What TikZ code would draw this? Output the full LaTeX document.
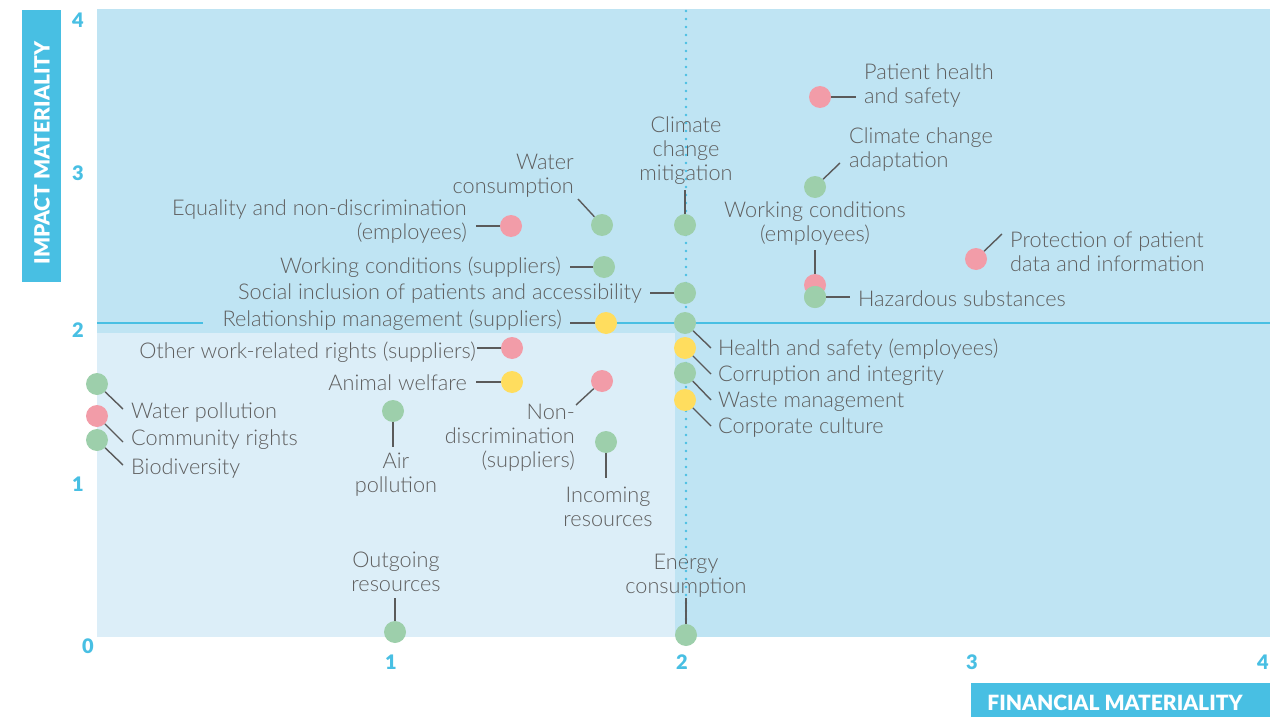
\documentclass[tikz,border=0pt]{standalone}
\usepackage{fontspec}
\setmainfont{Lato Light}
\newfontfamily\axfont{Lato Black}
\begin{document}
\begin{tikzpicture}[x=1pt,y=-1pt,
  dotp/.style={circle,fill=dotpink,minimum size=22pt,inner sep=0pt},
  dotg/.style={circle,fill=dotgreen,minimum size=22pt,inner sep=0pt},
  doty/.style={circle,fill=dotyellow,minimum size=22pt,inner sep=0pt},
  lbl/.style={text=labelgray,font=\fontsize{21.7}{24}\selectfont,inner sep=0pt,yshift=-1.5pt},
  conn/.style={draw=connGray,line width=1.4pt},
  tick/.style={text=axisblue,font=\axfont\fontsize{20}{22}\selectfont,inner sep=0pt},
  axtitle/.style={text=white,font=\axfont\fontsize{21}{22}\selectfont,inner sep=0pt}]
\definecolor{bgdark}{HTML}{BFE4F3}
\definecolor{bglight}{HTML}{DCEEF8}
\definecolor{dotpink}{HTML}{F29CA8}
\definecolor{dotgreen}{HTML}{9DCFAB}
\definecolor{dotyellow}{HTML}{FFDD5E}
\definecolor{labelgray}{HTML}{5F5F5F}
\definecolor{connGray}{HTML}{5A5A5A}
\definecolor{axisblue}{HTML}{48BFE3}
\useasboundingbox (0,0) rectangle (1278,717);
% backgrounds
\fill[bgdark] (97,9) rectangle (1270,637);
\fill[bglight] (97,333) rectangle (675,637);
% threshold lines
\draw[axisblue,line width=2pt] (97,323) -- (203,323);
\draw[axisblue,line width=2pt] (570,323) -- (1270,323);
\draw[axisblue,line width=2.6pt,line cap=round,dash pattern=on 0pt off 8pt] (686,11) -- (686,636);
% axis titles
\fill[axisblue] (22,10) rectangle (61,282);
\node[axtitle,rotate=90] (ytitle) at (42,153) {IMPACT MATERIALITY};
\fill[axisblue] (971,683) rectangle (1270,717);
\node[axtitle] (xtitle) at (1115,703) {FINANCIAL MATERIALITY};
% ticks
\node[tick] (y4) at (78,20) {4};
\node[tick] (y3) at (78,173) {3};
\node[tick] (y2) at (78,330) {2};
\node[tick] (y1) at (78,484) {1};
\node[tick] (x0) at (88,646) {0};
\node[tick] (x1) at (391,662) {1};
\node[tick] (x2) at (682,662) {2};
\node[tick] (x3) at (972,662) {3};
\node[tick] (x4) at (1263,662) {4};
% coordinates for connector ends
\coordinate (cA) at (856,97);
\coordinate (cB) at (840,163);
\coordinate (cC) at (815,250);
\coordinate (cD) at (850,297);
\coordinate (cE) at (1002,234);
\coordinate (cF) at (685,190);
\coordinate (cG) at (650,293);
\coordinate (cH) at (711,348);
\coordinate (cI) at (711,374);
\coordinate (cJ) at (711,400);
\coordinate (cK) at (711,426);
\coordinate (cL) at (578,199);
\coordinate (cM) at (476,226);
\coordinate (cN) at (570,267);
\coordinate (cO) at (570,323);
\coordinate (cP) at (477,348);
\coordinate (cQ) at (476,382);
\coordinate (cR) at (576,405);
\coordinate (cS) at (606,478);
\coordinate (cT) at (393,447);
\coordinate (cU) at (123,409);
\coordinate (cV) at (123,442);
\coordinate (cW) at (123,465);
\coordinate (cX) at (395,598);
\coordinate (cY) at (686,598);
% dots
\node[dotp] (pA) at (820,97) {};
\node[dotg] (gB) at (815,187) {};
\node[dotp] (pC) at (815,285) {};
\node[dotg] (gD) at (815,297) {};
\node[dotp] (pE) at (976,259) {};
\node[dotg] (gF) at (685,225) {};
\node[dotg] (gG) at (685,293) {};
\node[dotg] (gH) at (685,323) {};
\node[doty] (yI) at (685,348) {};
\node[dotg] (gJ) at (685,373) {};
\node[doty] (yK) at (685,400) {};
\node[dotg] (gL) at (602,225) {};
\node[dotp] (pM) at (511,226) {};
\node[dotg] (gN) at (604,267) {};
\node[doty] (yO) at (606,323) {};
\node[dotp] (pP) at (512,348) {};
\node[doty] (yQ) at (512,382) {};
\node[dotp] (pR) at (602,381) {};
\node[dotg] (gS) at (606,442) {};
\node[dotg] (gT) at (393,411) {};
\node[dotg] (gU) at (97,384) {};
\node[dotp] (pV) at (97,416) {};
\node[dotg] (gW) at (97,440) {};
\node[dotg] (gX) at (395,632) {};
\node[dotg] (gY) at (686,635) {};
% connectors
\foreach \d/\c in {pA/cA,gB/cB,pC/cC,gD/cD,pE/cE,gF/cF,gG/cG,gH/cH,yI/cI,gJ/cJ,yK/cK,gL/cL,pM/cM,gN/cN,yO/cO,pP/cP,yQ/cQ,pR/cR,gS/cS,gT/cT,gU/cU,pV/cV,gW/cW,gX/cX,gY/cY}
  \draw[conn] (\d) -- (\c);
% redraw overlapping dot
\node[dotg] at (gD) {};
% labels
\node[lbl,anchor=west,align=left] (tA) at (864,84) {Patient health\\and safety};
\node[lbl,anchor=west,align=left] (tB) at (849,148) {Climate change\\adaptation};
\node[lbl,align=center] (tC) at (815,222) {Working conditions\\(employees)};
\node[lbl,anchor=west] (tD) at (858,297) {Hazardous substances};
\node[lbl,anchor=west,align=left] (tE) at (1010,250) {Protection of patient\\data and information};
\node[lbl,align=center] (tF) at (686,149) {Climate\\change\\mitigation};
\node[lbl,anchor=east] (tG) at (642,292) {Social inclusion of patients and accessibility};
\node[lbl,anchor=west] (tH) at (718,348) {Health and safety (employees)};
\node[lbl,anchor=west] (tI) at (718,374) {Corruption and integrity};
\node[lbl,anchor=west] (tJ) at (718,400) {Waste management};
\node[lbl,anchor=west] (tK) at (718,426) {Corporate culture};
\node[lbl,anchor=east,align=right] (tL) at (574,174) {Water\\consumption};
\node[lbl,anchor=east,align=right] (tM) at (467,220) {Equality and non-discrimination\\(employees)};
\node[lbl,anchor=east] (tN) at (561,266) {Working conditions (suppliers)};
\node[lbl,anchor=east] (tO) at (562,319) {Relationship management (suppliers)};
\node[lbl,anchor=east] (tP) at (476,351) {Other work-related rights (suppliers)};
\node[lbl,anchor=east] (tQ) at (467,381) {Animal welfare};
\node[lbl,anchor=east,align=right] (tR) at (575,436) {Non-\\discrimination\\(suppliers)};
\node[lbl,align=center] (tS) at (608,505) {Incoming\\resources};
\node[lbl,align=center] (tT) at (396,473) {Air\\pollution};
\node[lbl,anchor=west] (tU) at (131,411) {Water pollution};
\node[lbl,anchor=west] (tV) at (131,438) {Community rights};
\node[lbl,anchor=west] (tW) at (131,467) {Biodiversity};
\node[lbl,align=center] (tX) at (396,570) {Outgoing\\resources};
\node[lbl,align=center] (tY) at (686,574) {Energy\\consumption};
\end{tikzpicture}
\end{document}
